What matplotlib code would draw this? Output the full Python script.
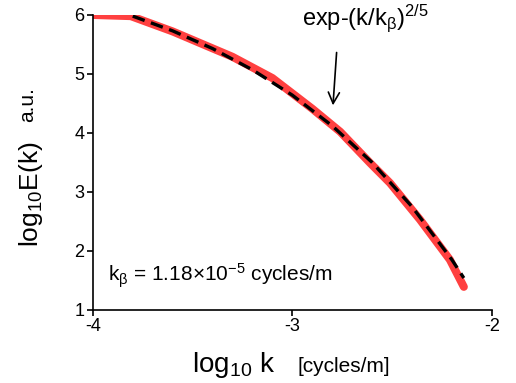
import matplotlib
matplotlib.use("Agg")
import matplotlib.pyplot as plt

plt.rcParams['font.family'] = ['Liberation Sans', 'DejaVu Sans']
plt.rcParams['mathtext.fontset'] = 'custom'
plt.rcParams['mathtext.rm'] = 'Liberation Sans'
plt.rcParams['mathtext.it'] = 'Liberation Sans'
plt.rcParams['mathtext.default'] = 'regular'

# data
log_k_data = [-4.0, -3.81, -3.60, -3.30, -3.10, -2.90, -2.76, -2.61, -2.51, -2.36, -2.21, -2.14]
log_E_data = [6.0, 5.98, 5.72, 5.29, 4.93, 4.41, 4.02, 3.49, 3.15, 2.53, 1.85, 1.39]

log_k_fit = [-3.8, -3.6, -3.4, -3.2, -3.0, -2.8, -2.6, -2.4, -2.2, -2.14]
log_E_fit = [5.98, 5.73, 5.43, 5.07, 4.64, 4.12, 3.50, 2.75, 1.85, 1.54]

xticks = [-4, -3, -2]
yticks = [1, 2, 3, 4, 5, 6]

fig = plt.figure(figsize=(5.16, 3.83), dpi=100)
ax = fig.add_axes([0.180, 0.191, 0.773, 0.770])

ax.plot(log_k_data, log_E_data, color='#ff4040', lw=5.8, solid_capstyle='round',
        solid_joinstyle='round', zorder=2)
ax.plot(log_k_fit, log_E_fit, color='black', lw=2.4, dashes=(3.8, 2.0), zorder=3)

ax.set_xlim(-4, -2)
ax.set_ylim(1, 6)
ax.set_xticks(xticks)
ax.set_yticks(yticks)
ax.set_xticklabels([str(t) for t in xticks])
ax.set_yticklabels([str(t) for t in yticks])
for s in ['top', 'right']:
    ax.spines[s].set_visible(False)
for s in ['left', 'bottom']:
    ax.spines[s].set_linewidth(1.2)
ax.tick_params(direction='out', length=4, width=1.2, labelsize=13, pad=2)

fig.text(0.074, 0.355, r'log$_{10}$E(k)', rotation=90, rotation_mode='anchor',
         fontsize=19, ha='left', va='baseline')
fig.text(0.065, 0.681, 'a.u.', rotation=90, rotation_mode='anchor',
         fontsize=15, ha='left', va='baseline')
fig.text(0.372, 0.029, r'log$_{10}$ k', fontsize=20, ha='left', va='baseline')
fig.text(0.576, 0.029, '[cycles/m]', fontsize=15, ha='left', va='baseline')

fig.text(0.209, 0.264, r'k$_{\beta}$ = 1.18×10$^{-5}$ cycles/m', fontsize=15,
         ha='left', va='baseline')

ax.text(-2.95, 5.83, r'exp-(k/k$_{\beta}$)$^{2/5}$', fontsize=17, ha='left', va='baseline')
ax.annotate('', xy=(-2.797, 4.42), xytext=(-2.777, 5.41),
            arrowprops=dict(arrowstyle='->', color='black', lw=1.2, mutation_scale=20))

fig.savefig('out.png', dpi=100)
